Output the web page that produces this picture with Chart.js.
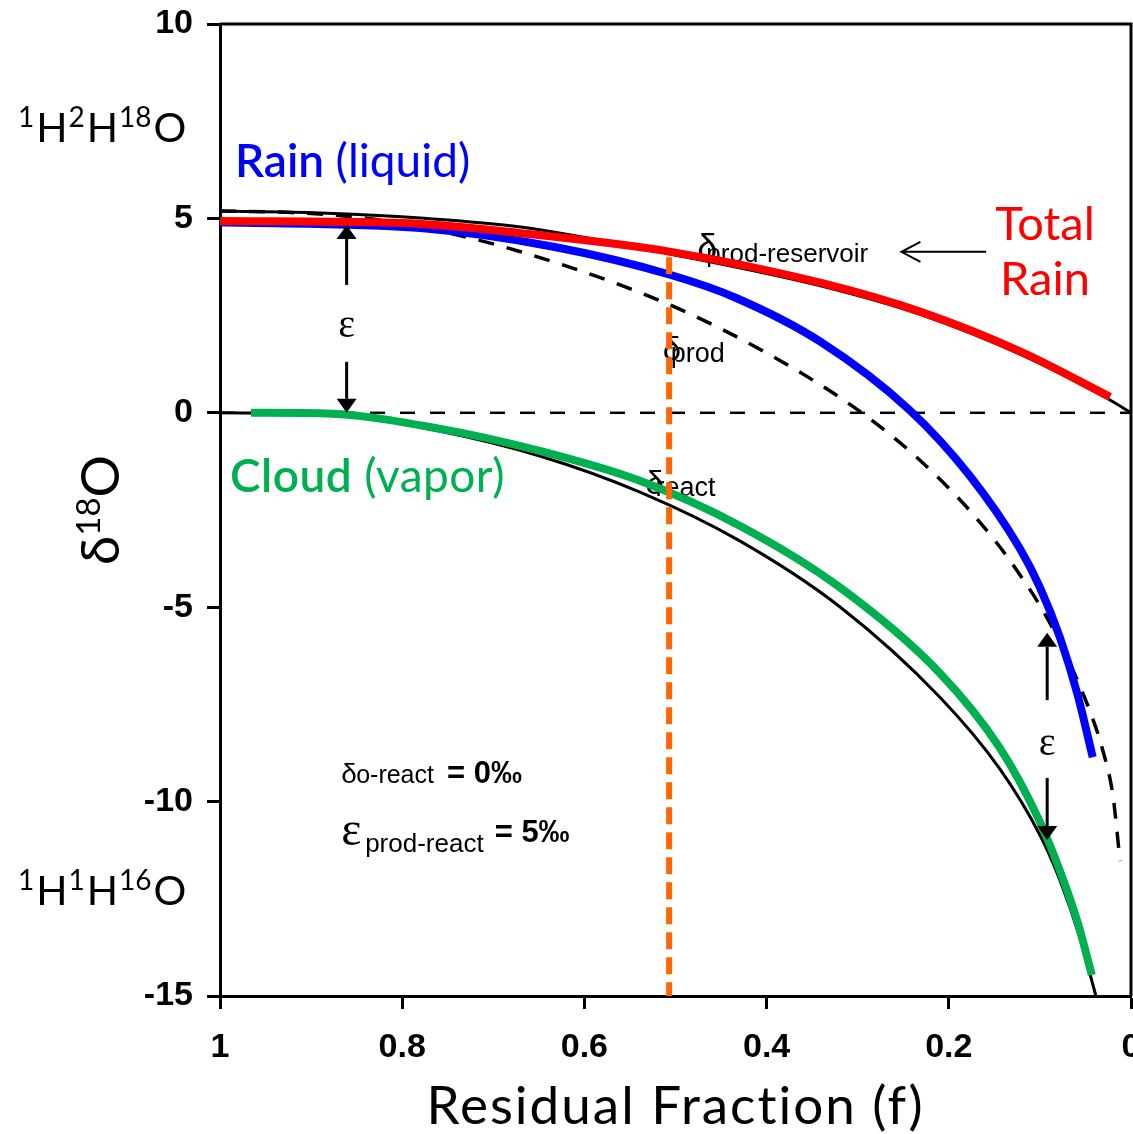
<!DOCTYPE html>
<html>
<head>
<meta charset="utf-8">
<title>Rayleigh fractionation of δ18O</title>
<script src="https://cdn.jsdelivr.net/npm/chart.js@4/dist/chart.umd.min.js"></script>
<style>
  html, body { margin: 0; padding: 0; background: #fff; overflow: hidden; }
  #wrap { width: 1160px; height: 1134px; }
</style>
</head>
<body>
<div id="wrap"><canvas id="chart" width="1160" height="1134"></canvas></div>
<script>
// Residual fraction f (x) and δ18O in per mil (y) for each curve

// Total rain: accumulated product (δprod-reservoir), red
const fTotalRain = [1, 0.80, 0.67, 0.505, 0.34, 0.23, 0.12, 0.023];
const dTotalRain = [4.93, 4.88, 4.62, 4.14, 3.34, 2.59, 1.56, 0.41];

// Accumulated product, black solid
const fProdReservoir = [1, 0.89, 0.78, 0.67, 0.505, 0.34, 0.23, 0.12, 0.023, 0];
const dProdReservoir = [5.19, 5.14, 5.01, 4.78, 4.08, 3.26, 2.52, 1.49, 0.33, 0];

// Rain (liquid): instantaneous product, blue
const fRain = [1, 0.78, 0.634, 0.506, 0.434, 0.341, 0.243, 0.177, 0.122, 0.10, 0.078, 0.059, 0.042];
const dRain = [4.90, 4.75, 4.27, 3.55, 2.96, 1.83, 0.07, -1.62, -3.49, -4.49, -5.78, -7.22, -8.86];

// Instantaneous product (δprod), black dashed
const fProd = [1, 0.912, 0.824, 0.744, 0.671, 0.569, 0.493, 0.407, 0.329, 0.284, 0.235, 0.173, 0.125, 0.086, 0.045, 0.031, 0.020, 0.012];
const dProd = [5.19, 5.14, 4.96, 4.60, 4.15, 3.36, 2.64, 1.63, 0.54, -0.20, -1.15, -2.62, -4.06, -5.54, -7.68, -8.68, -9.82, -11.53];

// Remaining reactant (δreact), black solid
const fReact = [1, 0.879, 0.761, 0.649, 0.539, 0.429, 0.319, 0.210, 0.144, 0.10, 0.078, 0.056, 0.0385];
const dReact = [0, -0.04, -0.46, -1.11, -2.04, -3.30, -5.00, -7.31, -9.16, -10.86, -12.02, -13.51, -15.0];

// Cloud (vapor), green
const fCloud = [0.966, 0.890, 0.761, 0.649, 0.539, 0.429, 0.319, 0.210, 0.144, 0.10, 0.078, 0.059, 0.043];
const dCloud = [0.0, -0.01, -0.40, -0.98, -1.75, -2.91, -4.50, -6.69, -8.62, -10.52, -11.78, -13.07, -14.46];

// Half-way marker (orange) and zero reference line
const fMarker = [0.507, 0.507];
const dMarker = [4.0, -15];
const fZero = [1, 0];
const dZero = [0, 0];

// Axis ticks
const xTickValues = [1, 0.8, 0.6, 0.4, 0.2, 0];
const xTickLabels = ['1', '0.8', '0.6', '0.4', '0.2', '0'];
const yTickValues = [10, 5, 0, -5, -10, -15];
const yTickLabels = ['10', '5', '0', '-5', '-10', '-15'];

const pts = (fs, ds) => fs.map((f, i) => ({ x: f, y: ds[i] }));

const TICK_FONT = { family: 'Liberation Sans, Arial, sans-serif', weight: 'bold', size: 34 };
const SANS = '"Liberation Sans", Arial, sans-serif';
const TITLE = 'Lato, "Noto Sans", sans-serif';

function deltaLabel(ctx, x, y, sym, symSize, sub, subSize, subDx, subDy) {
  ctx.font = symSize + 'px ' + SANS;
  ctx.fillText(sym, x, y);
  ctx.font = subSize + 'px ' + SANS;
  ctx.fillText(sub, x + subDx, y + subDy);
  return x + subDx + ctx.measureText(sub).width;
}

function arrowV(ctx, x, yTail, yTip) {
  const len = 14, w = 20;
  const dir = Math.sign(yTip - yTail);
  ctx.beginPath();
  ctx.moveTo(x, yTail);
  ctx.lineTo(x, yTip - dir * len);
  ctx.stroke();
  ctx.beginPath();
  ctx.moveTo(x, yTip);
  ctx.lineTo(x - w / 2, yTip - dir * len);
  ctx.lineTo(x + w / 2, yTip - dir * len);
  ctx.closePath();
  ctx.fill();
}

const figureText = {
  id: 'figureText',
  beforeDatasetsDraw(chart) {
    const { ctx, scales: { x, y } } = chart;
    ctx.save();
    ctx.fillStyle = '#000';
    ctx.textBaseline = 'alphabetic';
    ctx.textAlign = 'left';
    // curve names
    deltaLabel(ctx, x.getPixelForValue(0.476), y.getPixelForValue(3.93), 'δ', 36, 'prod-reservoir', 26, 9, 2);
    deltaLabel(ctx, x.getPixelForValue(0.514), y.getPixelForValue(1.36), 'δ', 33, 'prod', 27, 8, 2);
    deltaLabel(ctx, x.getPixelForValue(0.533), y.getPixelForValue(-2.09), 'δ', 33, 'react', 27, 10, 2);
    // model parameters
    const x0 = x.getPixelForValue(0.867);
    let end = deltaLabel(ctx, x0, y.getPixelForValue(-9.52), 'δ', 28, 'o-react', 25, 15, 0);
    ctx.font = 'bold 31px ' + SANS;
    ctx.fillText('= 0‰', end + 13, y.getPixelForValue(-9.52));
    ctx.font = '48px "Liberation Serif", serif';
    ctx.fillText('ε', x0, y.getPixelForValue(-11.12));
    ctx.font = '26px ' + SANS;
    ctx.fillText('prod-react', x0 + 24, y.getPixelForValue(-11.30));
    end = x0 + 24 + ctx.measureText('prod-react').width;
    ctx.font = 'bold 31px ' + SANS;
    ctx.fillText('= 5‰', end + 11, y.getPixelForValue(-11.05));
    ctx.restore();
  },
  afterDatasetsDraw(chart) {
    const { ctx, scales: { x, y } } = chart;
    ctx.save();
    ctx.strokeStyle = '#000';
    ctx.fillStyle = '#000';
    ctx.lineWidth = 3;
    // ε separation arrows between product and reactant
    const ax1 = x.getPixelForValue(0.861);
    arrowV(ctx, ax1, y.getPixelForValue(3.29), y.getPixelForValue(4.83));
    arrowV(ctx, ax1, y.getPixelForValue(1.31), y.getPixelForValue(0));
    const ax2 = x.getPixelForValue(0.092);
    arrowV(ctx, ax2, y.getPixelForValue(-7.39), y.getPixelForValue(-5.66));
    arrowV(ctx, ax2, y.getPixelForValue(-9.39), y.getPixelForValue(-10.99));
    ctx.font = '40px "Liberation Serif", serif';
    ctx.textAlign = 'center';
    ctx.textBaseline = 'middle';
    ctx.fillText('ε', ax1, y.getPixelForValue(2.21));
    ctx.fillText('ε', ax2, y.getPixelForValue(-8.54));

    // pointer from the Total Rain label to its curve
    const py = y.getPixelForValue(4.14);
    const tip = x.getPixelForValue(0.252), tail = x.getPixelForValue(0.159);
    ctx.lineWidth = 2;
    ctx.beginPath();
    ctx.moveTo(tail, py); ctx.lineTo(tip, py);
    ctx.moveTo(tip + 19, py - 10); ctx.lineTo(tip, py); ctx.lineTo(tip + 19, py + 10);
    ctx.stroke();
    ctx.restore();
  },
  afterDraw(chart) {
    const { ctx, chartArea: a } = chart;
    ctx.save();
    // frame: top and right edges
    ctx.strokeStyle = '#000';
    ctx.lineWidth = 3;
    ctx.beginPath();
    ctx.moveTo(a.left, a.top); ctx.lineTo(a.right, a.top); ctx.lineTo(a.right, a.bottom);
    ctx.stroke();

    ctx.textBaseline = 'alphabetic';
    ctx.textAlign = 'left';

    // series names
    ctx.fillStyle = '#0000FF';
    ctx.font = '600 46px ' + TITLE;
    ctx.fillText('Rain', 235, 177);
    let w = ctx.measureText('Rain ').width;
    ctx.font = '400 46px ' + TITLE;
    ctx.fillText('(liquid)', 235 + w, 177);

    ctx.fillStyle = '#00B050';
    ctx.font = '600 46px ' + TITLE;
    ctx.letterSpacing = '0.5px';
    ctx.fillText('Cloud', 230, 492);
    w = ctx.measureText('Cloud ').width;
    ctx.font = '400 46px ' + TITLE;
    ctx.fillText('(vapor)', 230 + w, 492);
    ctx.letterSpacing = '0px';

    ctx.fillStyle = '#FF0000';
    ctx.textAlign = 'center';
    ctx.font = '400 47px ' + TITLE;
    ctx.fillText('Total', 1045, 240);
    ctx.fillText('Rain', 1045, 295);

    // isotopologue end members
    ctx.fillStyle = '#000';
    ctx.textAlign = 'left';
    function iso(x0, base, parts) {
      let cx = x0;
      for (const [t, sup] of parts) {
        ctx.font = (sup ? '400 28px ' : '400 41px ') + TITLE;
        ctx.fillText(t, cx, sup ? base - 15 : base);
        cx += ctx.measureText(t).width + (sup ? 2 : 1);
      }
    }
    iso(18, 142, [['1', 1], ['H', 0], ['2', 1], ['H', 0], ['18', 1], ['O', 0]]);
    iso(18, 905, [['1', 1], ['H', 0], ['1', 1], ['H', 0], ['16', 1], ['O', 0]]);

    // axis titles
    ctx.font = '400 53px ' + TITLE;
    ctx.letterSpacing = '2px';
    ctx.textAlign = 'center';
    ctx.fillText('Residual Fraction (f)', (a.left + a.right) / 2, 1124);
    ctx.letterSpacing = '0px';

    ctx.translate(119, 510);
    ctx.rotate(-Math.PI / 2);
    ctx.textAlign = 'left';
    const parts = [['δ', 0], ['18', 1], ['O', 0]];
    let total = 0;
    for (const [t, sup] of parts) {
      ctx.font = (sup ? '400 33px ' : '400 53px ') + TITLE;
      total += ctx.measureText(t).width;
    }
    let cx = -total / 2;
    for (const [t, sup] of parts) {
      ctx.font = (sup ? '400 33px ' : '400 53px ') + TITLE;
      ctx.fillText(t, cx, sup ? -19 : 0);
      cx += ctx.measureText(t).width;
    }
    ctx.restore();
  }
};

const line = (data, color, width, order, extra) => Object.assign({
  data, borderColor: color, borderWidth: width, order,
  pointRadius: 0, fill: false, cubicInterpolationMode: 'monotone'
}, extra || {});

new Chart(document.getElementById('chart'), {
  type: 'line',
  data: {
    datasets: [
      line(pts(fTotalRain, dTotalRain), '#FF0000', 8, 0, { label: 'Total Rain' }),
      line(pts(fMarker, dMarker), '#FF6600', 6, 1, { label: 'f = 0.5', borderDash: [17, 8], cubicInterpolationMode: 'default', tension: 0 }),
      line(pts(fCloud, dCloud), '#00B050', 8, 2, { label: 'Cloud (vapor)' }),
      line(pts(fRain, dRain), '#0000FF', 8, 3, { label: 'Rain (liquid)' }),
      line(pts(fProdReservoir, dProdReservoir), '#000', 3, 4, { label: 'δprod-reservoir' }),
      line(pts(fProd, dProd), '#000', 3.5, 5, { label: 'δprod', borderDash: [16, 13] }),
      line(pts(fReact, dReact), '#000', 3, 6, { label: 'δreact' }),
      line(pts(fZero, dZero), '#000', 2.5, 7, { label: '0', borderDash: [15, 15], cubicInterpolationMode: 'default', tension: 0 })
    ]
  },
  options: {
    responsive: false,
    animation: false,
    devicePixelRatio: 1,
    events: [],
    layout: { padding: { top: 24, right: 29, bottom: 0, left: 0 } },
    plugins: { legend: { display: false }, tooltip: { enabled: false } },
    scales: {
      x: {
        type: 'linear', reverse: true, min: 0, max: 1,
        afterFit(s) { s.height = 138; s.paddingLeft = 0; s.paddingRight = 0; },
        afterBuildTicks(s) { s.ticks = xTickValues.map(v => ({ value: v })); },
        ticks: {
          color: '#000', font: TICK_FONT, padding: 18, maxRotation: 0, autoSkip: false,
          callback: (v) => xTickLabels[xTickValues.indexOf(v)]
        },
        grid: { display: true, drawOnChartArea: false, drawTicks: true, tickLength: 13, tickWidth: 3, tickColor: '#000' },
        border: { display: true, color: '#000', width: 3 }
      },
      y: {
        type: 'linear', min: -15, max: 10,
        afterFit(s) { s.width = 220; s.paddingTop = 0; s.paddingBottom = 0; },
        afterBuildTicks(s) { s.ticks = yTickValues.map(v => ({ value: v })); },
        ticks: {
          color: '#000', font: TICK_FONT, padding: 14, autoSkip: false,
          callback: (v) => yTickLabels[yTickValues.indexOf(v)]
        },
        grid: { display: true, drawOnChartArea: false, drawTicks: true, tickLength: 13, tickWidth: 3, tickColor: '#000' },
        border: { display: true, color: '#000', width: 3 }
      }
    }
  },
  plugins: [figureText]
});
</script>
</body>
</html>
